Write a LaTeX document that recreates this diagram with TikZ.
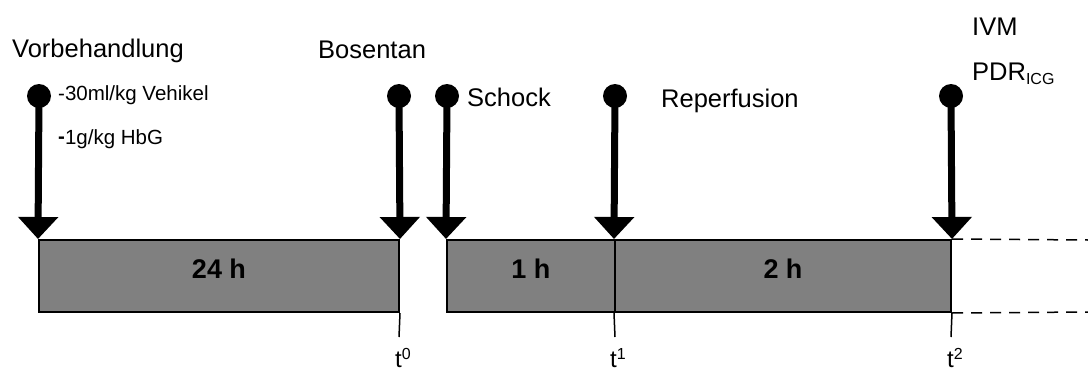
\documentclass[tikz,border=0pt]{standalone}
\usepackage{fontspec}
\setmainfont{Liberation Sans}
\usetikzlibrary{arrows.meta}
\begin{document}
\begin{tikzpicture}[x=1pt,y=-1pt,
  dot/.style={circle,fill=black,inner sep=0pt,minimum size=24pt},
  arr/.style={line width=7pt,-{Triangle[width=39pt,length=22pt]}},
  phase/.style={draw=black,line width=2pt,fill=gray50,inner sep=0pt},
  lbl/.style={inner sep=0pt,anchor=base west,font=\fontsize{25.5}{30}\selectfont},
  small/.style={inner sep=0pt,anchor=base west,font=\fontsize{20.5}{24}\selectfont},
  dur/.style={inner sep=0pt,anchor=base,font=\fontsize{27}{32}\selectfont\bfseries},
  tick/.style={line width=1.5pt},
  tlbl/.style={inner sep=0pt,anchor=base west,font=\fontsize{24}{28}\selectfont},
  ext/.style={line width=1.5pt,dash pattern=on 11pt off 8pt}
]
\definecolor{gray50}{RGB}{128,128,128}
\useasboundingbox (0,0) rectangle (1088,372);
% phase boxes
\node[phase,minimum width=360pt,minimum height=72pt] (b1) at (219,276) {};
\node[phase,minimum width=168pt,minimum height=72pt] (b2) at (531,276) {};
\node[phase,minimum width=336pt,minimum height=72pt] (b3) at (783,276) {};
\node[dur] (l1) at (219,278) {24 h};
\node[dur] (l2) at (531,278) {1 h};
\node[dur] (l3) at (783,278) {2 h};
% ticks
\coordinate (k0) at (399,337);
\coordinate (k1) at (615,337);
\coordinate (k2) at (951,337);
\draw[tick] (b1.south east) -- (k0);
\draw[tick] (b3.south west) -- (k1);
\draw[tick] (b3.south east) -- (k2);
\node[tlbl] (t0) at (395,367) {t\raisebox{8pt}{\fontsize{16}{18}\selectfont 0}};
\node[tlbl] (t1) at (610,367) {t\raisebox{8pt}{\fontsize{16}{18}\selectfont 1}};
\node[tlbl] (t2) at (947,367) {t\raisebox{8pt}{\fontsize{16}{18}\selectfont 2}};
% dashed extension
\coordinate (e1) at (1088,240);
\coordinate (e2) at (1088,312);
\draw[ext] (b3.north east) -- (e1);
\draw[ext] (b3.south east) -- (e2);
% arrows
\node[dot] (d1) at (39,96) {};
\node[dot] (d2) at (399,96) {};
\node[dot] (d3) at (447,96) {};
\node[dot] (d4) at (615,96) {};
\node[dot] (d5) at (951,96) {};
\draw[arr] (d1.center) -- (b1.north west);
\draw[arr] (d2.center) -- (b1.north east);
\draw[arr] (d3.center) -- (b2.north west);
\draw[arr] (d4.center) -- (b3.north west);
\draw[arr] (d5.center) -- (b3.north east);
% labels
\node[lbl] (vb) at (12,57) {Vorbehandlung};
\node[small] (v1) at (58,100) {-30ml/kg Vehikel};
\node[small] (v2) at (58,144) {{\bfseries\raisebox{1pt}{-}}1g/kg HbG};
\node[lbl] (bo) at (318,58) {Bosentan};
\node[lbl] (sc) at (467,106) {Schock};
\node[lbl] (re) at (661,107) {Reperfusion};
\node[lbl] (iv) at (972,35) {IVM};
\node[lbl] (pd) at (972,80) {PDR\raisebox{-4pt}{\fontsize{16}{18}\selectfont ICG}};
\end{tikzpicture}
\end{document}
